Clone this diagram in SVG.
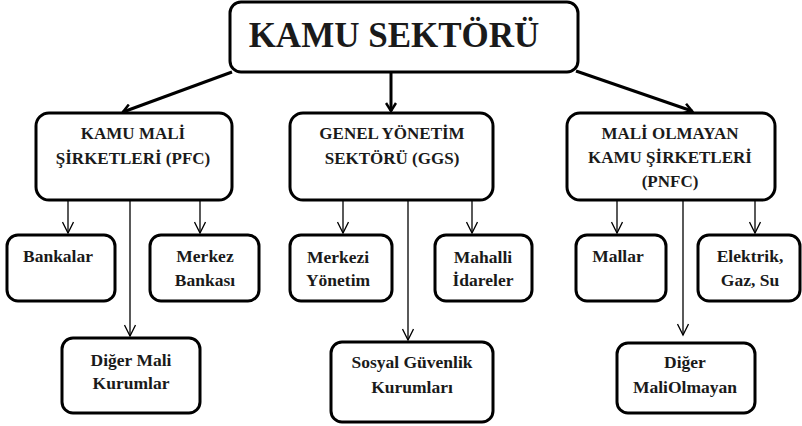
<svg xmlns="http://www.w3.org/2000/svg" width="802" height="426" viewBox="0 0 802 426">
<defs>
<marker id="big" markerWidth="12" markerHeight="12" refX="10" refY="6" orient="auto" markerUnits="userSpaceOnUse">
<path d="M2,1 L10,6 L2,11" fill="none" stroke="#000" stroke-width="2.5"/>
</marker>
<marker id="small" markerWidth="14" markerHeight="12" refX="12" refY="6" orient="auto" markerUnits="userSpaceOnUse">
<path d="M1,0.5 L12,6 L1,11.5" fill="none" stroke="#000" stroke-width="1.3"/>
</marker>
</defs>
<style>
.box{fill:#fff;stroke:#000;stroke-width:3}
.t{font-family:"Liberation Serif","Times New Roman",serif;font-weight:bold;fill:#1a1a1a;text-anchor:middle}
.l2{font-size:17px}
.l3{font-size:17.5px}
.thick{stroke:#000;stroke-width:3;fill:none;marker-end:url(#big)}
.thin{stroke:#000;stroke-width:1.3;fill:none;marker-end:url(#small)}
</style>
<rect width="802" height="426" fill="#fff"/>
<g id="connectors">
<line class="thick" x1="232" y1="72" x2="123" y2="112"/>
<line class="thick" x1="391" y1="73" x2="391" y2="111"/>
<line class="thick" x1="576" y1="71" x2="692" y2="111"/>
<line class="thin" x1="68" y1="201" x2="68" y2="233"/>
<line class="thin" x1="130" y1="201" x2="130" y2="336"/>
<line class="thin" x1="200" y1="201" x2="200" y2="233"/>
<line class="thin" x1="343" y1="201" x2="343" y2="233"/>
<line class="thin" x1="408" y1="201" x2="408" y2="340"/>
<line class="thin" x1="472" y1="201" x2="472" y2="233"/>
<line class="thin" x1="617" y1="201" x2="617" y2="233"/>
<line class="thin" x1="683" y1="201" x2="683" y2="335"/>
<line class="thin" x1="755" y1="201" x2="755" y2="233"/>
</g>
<g id="kamu-sektoru">
<rect class="box" x="230" y="2" width="348" height="70" rx="11"/>
<text class="t" x="394" y="47" font-size="35">KAMU SEKTÖRÜ</text>
</g>
<g id="pfc">
<rect class="box" x="36" y="113" width="196" height="87" rx="13"/>
<text class="t l2" x="133" y="139">KAMU MALİ</text>
<text class="t l2" x="133" y="164">ŞİRKETLERİ (PFC)</text>
</g>
<g id="ggs">
<rect class="box" x="290" y="113" width="203" height="87" rx="13"/>
<text class="t l2" x="392" y="139">GENEL YÖNETİM</text>
<text class="t l2" x="392" y="164">SEKTÖRÜ (GGS)</text>
</g>
<g id="pnfc">
<rect class="box" x="567" y="113" width="208" height="87" rx="13"/>
<text class="t l2" x="670" y="139">MALİ OLMAYAN</text>
<text class="t l2" x="670" y="163">KAMU ŞİRKETLERİ</text>
<text class="t l2" x="670" y="187">(PNFC)</text>
</g>
<g id="bankalar">
<rect class="box" x="7" y="235" width="108" height="66" rx="11"/>
<text class="t l3" x="58" y="262">Bankalar</text>
</g>
<g id="merkez-bankasi">
<rect class="box" x="150" y="235" width="109" height="66" rx="11"/>
<text class="t l3" x="205" y="262">Merkez</text>
<text class="t l3" x="205" y="286">Bankası</text>
</g>
<g id="diger-mali">
<rect class="box" x="62" y="338" width="138" height="75" rx="11"/>
<text class="t l3" x="131" y="366">Diğer Mali</text>
<text class="t l3" x="131" y="389">Kurumlar</text>
</g>
<g id="merkezi-yonetim">
<rect class="box" x="290" y="235" width="102" height="66" rx="11"/>
<text class="t l3" x="338" y="263">Merkezi</text>
<text class="t l3" x="338" y="286">Yönetim</text>
</g>
<g id="mahalli-idareler">
<rect class="box" x="435" y="235" width="97" height="66" rx="11"/>
<text class="t l3" x="483" y="263">Mahalli</text>
<text class="t l3" x="483" y="286">İdareler</text>
</g>
<g id="sosyal-guvenlik">
<rect class="box" x="331" y="342" width="162" height="80" rx="11"/>
<text class="t l3" x="412" y="368">Sosyal Güvenlik</text>
<text class="t l3" x="412" y="393">Kurumları</text>
</g>
<g id="mallar">
<rect class="box" x="576" y="235" width="90" height="66" rx="11"/>
<text class="t l3" x="618" y="262">Mallar</text>
</g>
<g id="elektrik">
<rect class="box" x="698" y="235" width="102" height="66" rx="11"/>
<text class="t l3" x="750" y="262">Elektrik,</text>
<text class="t l3" x="750" y="286">Gaz, Su</text>
</g>
<g id="diger-mali-olmayan">
<rect class="box" x="617" y="343" width="138" height="70" rx="11"/>
<text class="t l3" x="685" y="368">Diğer</text>
<text class="t l3" x="685" y="393">MaliOlmayan</text>
</g>
</svg>
